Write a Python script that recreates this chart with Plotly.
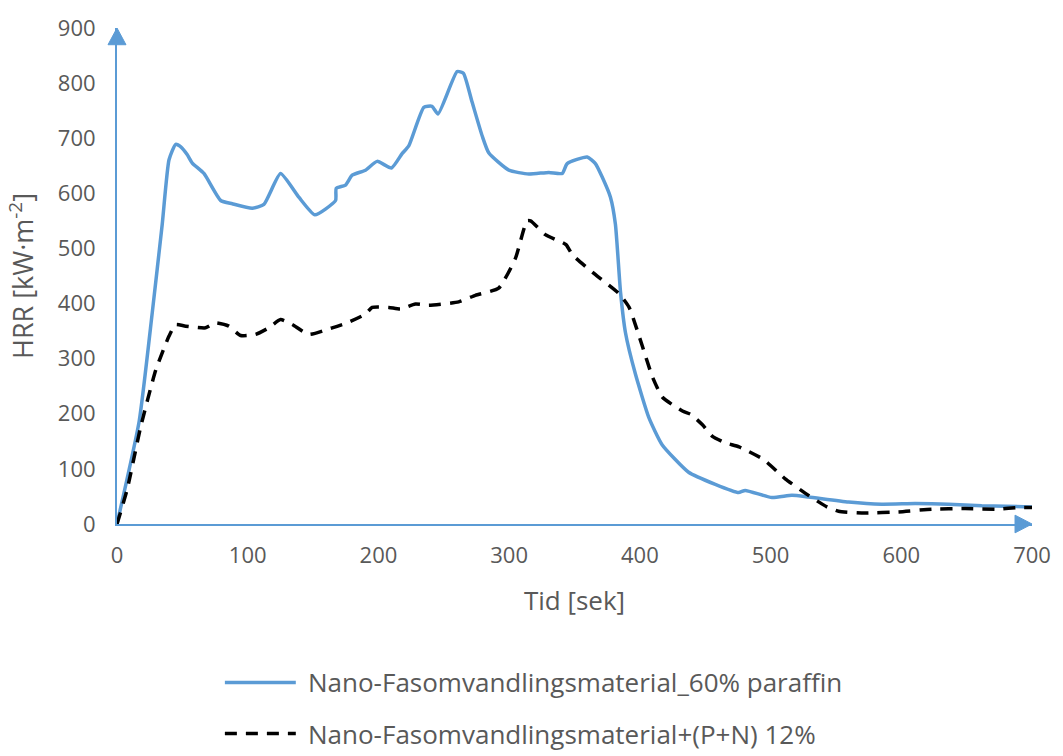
import plotly.graph_objects as go

# Heat release rate curves, time in seconds
series_names = [
    "Nano-Fasomvandlingsmaterial_60% paraffin",
    "Nano-Fasomvandlingsmaterial+(P+N) 12%",
]

paraffin_t = [0, 17, 27, 34.6, 39.8, 44.9, 49, 53.8, 57.6, 66.5, 79.3, 88.2, 103.5, 112.4,
              125.1, 139.1, 151.4, 167.2, 167.7, 174.8, 179.9, 190.1, 199, 210, 218.1,
              223.2, 234.7, 241, 245.6, 260.2, 265, 271.6, 279.4, 284.5, 299.8, 315.1,
              330.4, 340.6, 344.4, 359.7, 366, 371.1, 377.5, 381.3, 385.2, 389, 396.5,
              406.9, 417, 437.3, 457.7, 475.5, 480.6, 501, 516.3, 529, 559.6, 585,
              610.6, 636, 661.5, 700]
paraffin_hrr = [0, 187, 384, 544, 661, 689, 684, 670, 655, 636, 587, 581, 573, 580,
                636, 593, 561, 587, 609, 615, 633, 642, 658, 646, 672,
                686, 756, 758, 744, 821, 818, 766, 704, 673, 642, 635,
                638, 636, 654, 666, 654, 630, 593, 544, 421, 347, 273,
                193, 144, 94, 72, 57, 61, 48, 52, 49, 40, 36,
                37, 36, 33, 31]

pn_t = [0, 7.8, 17.9, 29.6, 39.8, 44.9, 52.5, 67.8, 75.4, 85.6, 94.5, 106, 116.2,
        125.1, 134, 146.8, 164.6, 176.1, 190.1, 195.2, 207.9, 216.8, 228.3, 238.5,
        261.4, 274.2, 292, 304.8, 313.6, 316.4, 327.7, 343.5, 348.5, 366.3, 384.1,
        391.8, 402, 409.6, 417.3, 432.6, 439, 447.9, 455.5, 465.7, 475.9, 494.7,
        511.2, 529, 543.1, 552, 572.4, 597.9, 623.4, 648.9, 674.4, 689.7, 700]
pn_hrr = [0, 63, 174, 279, 341, 362, 359, 356, 365, 359, 342, 344, 356,
          371, 362, 344, 356, 365, 381, 393, 393, 390, 399, 397,
          403, 415, 428, 482, 550, 550, 525, 507, 488, 452, 418,
          393, 322, 267, 230, 205, 199, 180, 159, 147, 140, 117,
          82, 52, 31, 23, 20, 22, 27, 28, 27, 30, 30]

x_ticks = [0, 100, 200, 300, 400, 500, 600, 700]
y_ticks = [0, 100, 200, 300, 400, 500, 600, 700, 800, 900]

BLUE = "#5B9BD5"
GRAY = "#595959"
FONT = "Segoe UI, Open Sans, sans-serif"
TICK_SIZE = 22
XTITLE_SIZE = 26
YTITLE_SIZE = 27
LEGEND_SIZE = 26

fig = go.Figure()
fig.add_trace(go.Scatter(
    x=paraffin_t, y=paraffin_hrr, mode="lines", name=series_names[0],
    line=dict(color=BLUE, width=3.5, shape="spline", smoothing=0.5),
    showlegend=False,
))
fig.add_trace(go.Scatter(
    x=pn_t, y=pn_hrr, mode="lines", name=series_names[1],
    line=dict(color="black", width=3.5, dash="12px,9px", shape="spline", smoothing=0.5),
    showlegend=False,
))

W, H = 1063, 756
ML, MR, MT, MB = 117, 30, 20, 232
pw, ph = W - ML - MR, H - MT - MB


def px_x(p):
    return (p - ML) / pw


def px_y(p):
    return (H - MB - p) / ph


fig.update_layout(
    width=W, height=H,
    margin=dict(l=ML, r=MR, t=MT, b=MB, pad=0),
    paper_bgcolor="white", plot_bgcolor="white",
    font=dict(family=FONT, size=TICK_SIZE, color=GRAY),
    xaxis=dict(
        range=[0, 700], tickvals=x_ticks, showgrid=False, zeroline=False,
        showline=True, linecolor=BLUE, linewidth=2, ticks="",
        ticklabelstandoff=11,
        tickfont=dict(size=TICK_SIZE, color=GRAY),
        title=dict(text="Tid [sek]", font=dict(size=XTITLE_SIZE, color=GRAY), standoff=23),
    ),
    yaxis=dict(
        range=[0, 900], tickvals=y_ticks, showgrid=False, zeroline=False,
        showline=True, linecolor=BLUE, linewidth=2, ticks="",
        ticklabelstandoff=15,
        tickfont=dict(size=TICK_SIZE, color=GRAY),
        title=dict(text="HRR [kW·m<sup>-2</sup>]", font=dict(size=YTITLE_SIZE, color=GRAY), standoff=16),
    ),
)

# Filled arrowheads at the ends of both axes (pixel offsets converted to paper units)
head_len, head_half = 17, 9
ax_x0, ax_y1 = px_x(ML), px_y(MT)
tip_y = f"M {px_x(ML):.5f},{px_y(MT):.5f} " \
        f"L {px_x(ML - head_half):.5f},{px_y(MT + head_len):.5f} " \
        f"L {px_x(ML + head_half):.5f},{px_y(MT + head_len):.5f} Z"
tip_x = f"M {px_x(ML + pw):.5f},{px_y(H - MB):.5f} " \
        f"L {px_x(ML + pw - head_len):.5f},{px_y(H - MB - head_half):.5f} " \
        f"L {px_x(ML + pw - head_len):.5f},{px_y(H - MB + head_half):.5f} Z"
for path in (tip_y, tip_x):
    fig.add_shape(type="path", path=path, xref="paper", yref="paper",
                  fillcolor=BLUE, line=dict(color=BLUE, width=1), layer="above")

# Legend drawn below the axis title
legend_rows = [685, 737]
legend_styles = [dict(color=BLUE, width=3.5), dict(color="black", width=3.5, dash="12px,9px")]
for name, row, style in zip(series_names, legend_rows, legend_styles):
    fig.add_shape(type="line", xref="paper", yref="paper",
                  x0=px_x(225), x1=px_x(296), y0=px_y(row), y1=px_y(row),
                  line=style)
    fig.add_annotation(x=px_x(306), y=px_y(row), xref="paper", yref="paper",
                       text=name, showarrow=False, xanchor="left", yanchor="middle",
                       font=dict(size=LEGEND_SIZE, color=GRAY, family=FONT))

fig.write_html("out.html")
